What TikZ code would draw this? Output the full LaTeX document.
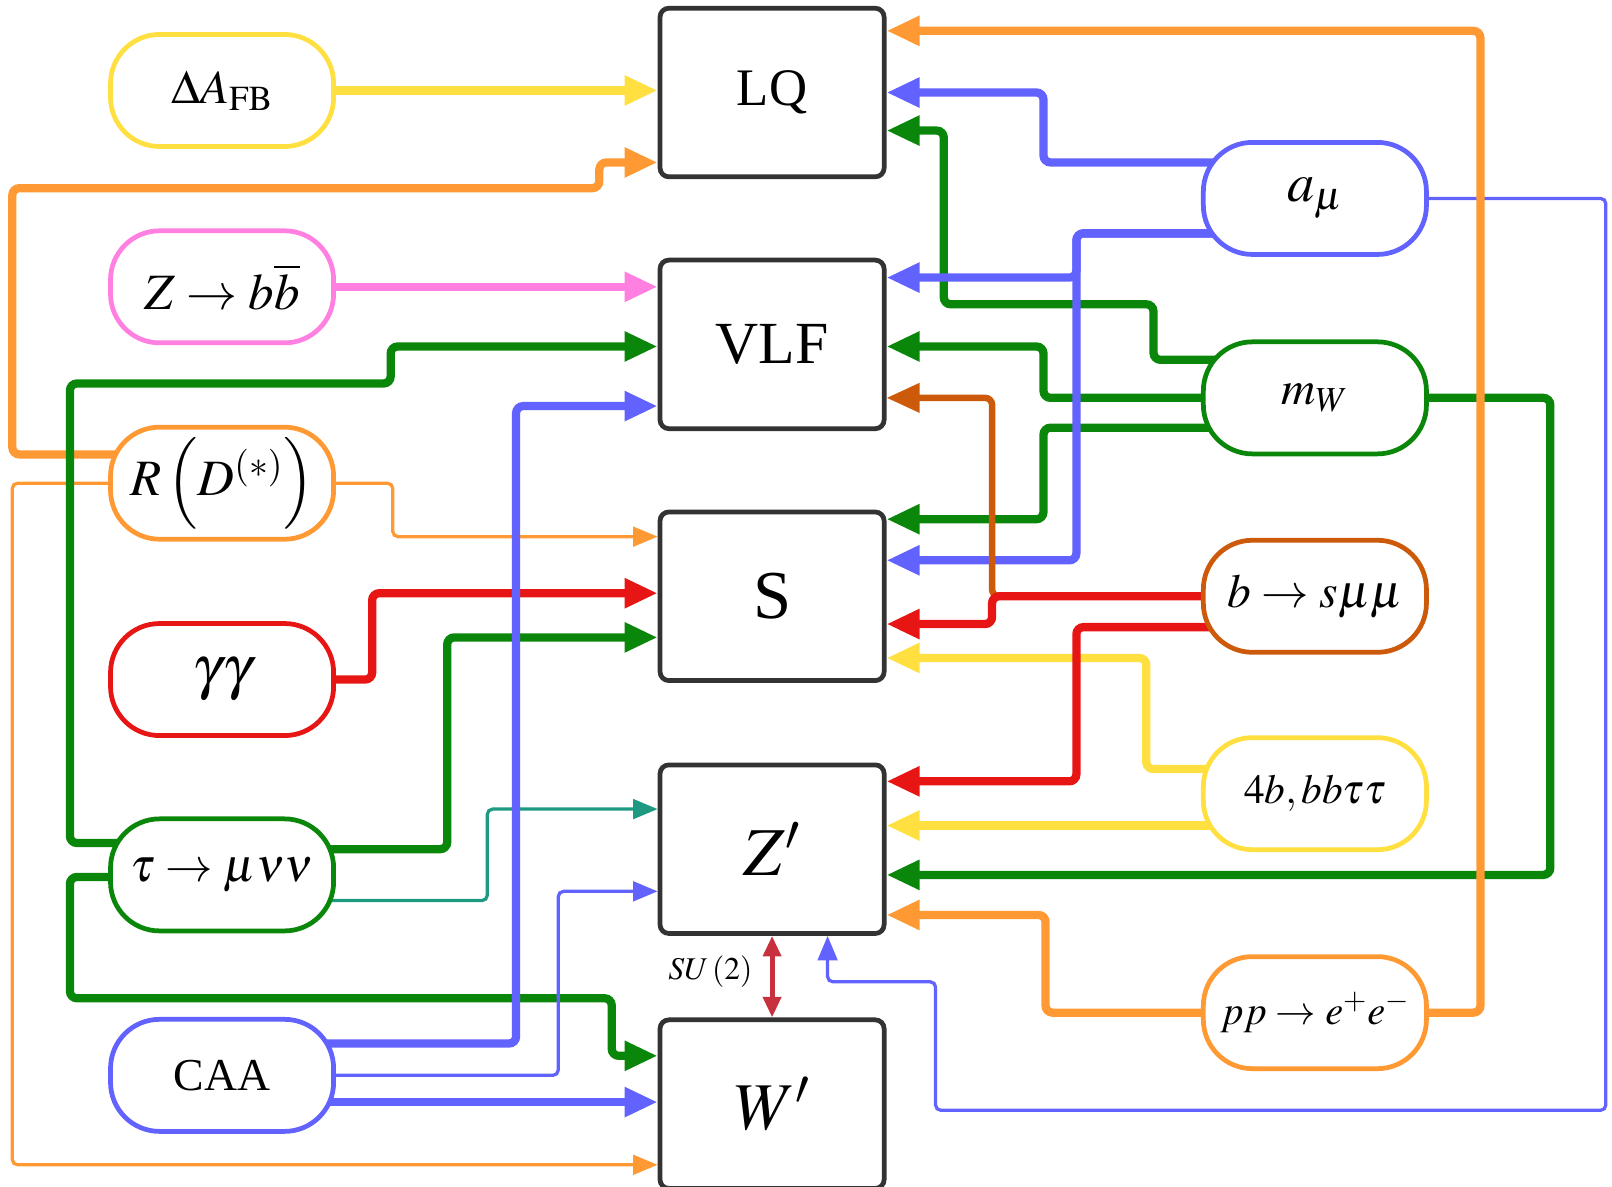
\documentclass[tikz,border=0pt]{standalone}
\usepackage{mathptmx}
\usepackage{fontspec}
\setmainfont{Liberation Serif}
\usetikzlibrary{arrows.meta}
\usetikzlibrary{backgrounds}

\definecolor{cYel}{HTML}{FFE040}
\definecolor{cPink}{HTML}{FF80E0}
\definecolor{cOrg}{HTML}{FF9933}
\definecolor{cRed}{HTML}{E81515}
\definecolor{cGrn}{HTML}{0A870A}
\definecolor{cBlu}{HTML}{6262FF}
\definecolor{cBrn}{HTML}{CC5A0A}
\definecolor{cTeal}{HTML}{1E9A82}
\definecolor{cSU}{HTML}{C8303E}
\definecolor{cBox}{HTML}{333333}

\newcommand{\fsz}[1]{\fontsize{#1}{#1}\selectfont}

\tikzset{
  model/.style={draw=cBox, line width=2.7pt, rounded corners=5pt, fill=white,
    minimum width=4.48cm, minimum height=3.37cm, inner sep=0pt},
  obs/.style={draw=#1, line width=2.7pt, rounded corners=0.98cm, fill=white,
    minimum width=4.46cm, minimum height=2.24cm, inner sep=0pt},
  thk/.style={draw=#1, line width=4.7pt, rounded corners=4pt,
    -{Triangle[length=0.66cm,width=0.56cm]}},
  thn/.style={draw=#1, line width=1.85pt, rounded corners=3pt,
    -{Triangle[length=0.49cm,width=0.39cm]}},
}

\begin{document}
\begin{tikzpicture}[x=0.020561cm, y=-0.020561cm]
  \useasboundingbox (0,0) rectangle (1568,1154);

  \node[model, font=\fsz{30pt}] (lq)  at (751,90)   {LQ};
  \node[model, font=\fsz{34pt}] (vlf) at (751,335)  {VLF};
  \node[model, font=\fsz{39pt}] (s)   at (751,580)  {S};
  \node[model, font=\fsz{39pt}] (zp)  at (751,826)  {$Z'$};
  \node[model, font=\fsz{38pt}] (wp)  at (751,1074) {$W'$};

  \node[obs=cYel,  font=\fsz{27pt}] (afb) at (216,88)   {$\Delta A_{\mathrm{FB}}$};
  \node[obs=cPink, font=\fsz{29pt}] (zbb) at (216,279)  {$Z\to b\overline{b}$};
  \node[obs=cOrg,  font=\fsz{29pt}] (rd)  at (216,470)  {$R\left(D^{(*)}\right)$};
  \node[obs=cRed,  font=\fsz{34pt}] (gg)  at (216,661)  {$\gamma\gamma$};
  \node[obs=cGrn,  font=\fsz{27pt}] (tau) at (216,851)  {$\tau\to\mu\nu\nu$};
  \node[obs=cBlu,  font=\fsz{26pt}] (caa) at (216,1046) {CAA};

  \node[obs=cBlu,  font=\fsz{31pt}] (amu)   at (1279,193) {$a_{\mu}$};
  \node[obs=cGrn,  font=\fsz{27pt}] (mw)    at (1279,387) {$m_{W}$};
  \node[obs=cBrn,  font=\fsz{27pt}] (bsmm)  at (1279,580) {$b\to s\mu\mu$};
  \node[obs=cYel,  font=\fsz{23.5pt}] (fourb) at (1279,772) {$4b,bb\tau\tau$};
  \node[obs=cOrg,  font=\fsz{23pt}] (ppee)  at (1279,985) {$pp\to e^{+}e^{-}$};

  \node[font=\fsz{18pt}] (su) at (691,945) {$SU\left(2\right)$};

  \begin{scope}[on background layer]
    \draw[thk=cYel] (afb) -- (lq.west |- afb);
    \draw[thk=cOrg] (rd |- 0,442) -| (12,183) -- (583,183) |- (lq.west |- 0,158);
    \draw[thk=cPink] (zbb) -- (vlf.west |- zbb);
    \draw[thn=cOrg] (rd) -| (382,522) -- (s.west |- 0,522);
    \draw[thn=cOrg] (rd) -| (12,1133) -- (wp.west |- 0,1133);
    \draw[thk=cGrn] (tau |- 0,820) -| (68,373) -| (380,337) -- (vlf.west |- 0,337);
    \draw[thk=cGrn] (tau |- 0,853) -| (68,971) -| (595,1027) -- (wp.west |- 0,1027);
    \draw[thk=cRed] (gg) -| (362,577) -- (s.west |- 0,577);
    \draw[thk=cGrn] (tau |- 0,826) -| (435,620) -- (s.west |- 0,620);
    \draw[thn=cTeal] (tau |- 0,876) -| (474,787) -- (zp.west |- 0,787);
    \draw[thn=cBlu] (caa) -| (543,867) -- (zp.west |- 0,867);
    \draw[thk=cBlu] (caa |- 0,1015) -| (502,395) -- (vlf.west |- 0,395);
    \draw[thk=cBlu] (caa |- 0,1072) -- (wp.west |- 0,1072);

    \draw[thk=cGrn] (mw |- 0,350) -| (1122,296) -| (918,127) -- (lq.east |- 0,127);
    \draw[thk=cGrn] (mw) -| (1015,337) -- (vlf.east |- 0,337);
    \draw[thk=cGrn] (mw |- 0,416) -| (1015,505) -- (s.east |- 0,505);
    \draw[thk=cGrn] (mw) -| (1508,851) -- (zp.east |- 0,851);
    \draw[thk=cBlu] (amu |- 0,158) -| (1015,90) -- (lq.east |- 0,90);
    \draw[thk=cBlu] (amu |- 0,227) -| (1047,270) -- (vlf.east |- 0,270);
    \draw[thk=cBlu] (amu |- 0,227) -| (1047,545) -- (s.east |- 0,545);
    \draw[thn=cBlu] (amu) -| (1562,1080) -| (910,955) -| (805,0 |- zp.south);
    \draw[thk=cYel] (fourb |- 0,748) -| (1115,640) -- (s.east |- 0,640);
    \draw[thk=cYel] (fourb |- 0,803) -- (zp.east |- 0,803);
    \draw[thk=cRed] (bsmm |- 0,610) -| (1047,760) -- (zp.east |- 0,760);
    \draw[thk=cBrn, line width=3.7pt] (bsmm) -| (965,387) -- (vlf.east |- 0,387);
    \draw[thk=cRed] (bsmm) -| (965,607) -- (s.east |- 0,607);
    \draw[thk=cOrg] (ppee) -| (1017,890) -- (zp.east |- 0,890);
    \draw[thk=cOrg] (ppee) -| (1440,30) -- (lq.east |- 0,30);
  \end{scope}

  \draw[cSU, line width=2.9pt, {Triangle[length=0.41cm,width=0.35cm]}-{Triangle[length=0.41cm,width=0.35cm]}]
    (zp.south) -- (wp.north);
\end{tikzpicture}
\end{document}
